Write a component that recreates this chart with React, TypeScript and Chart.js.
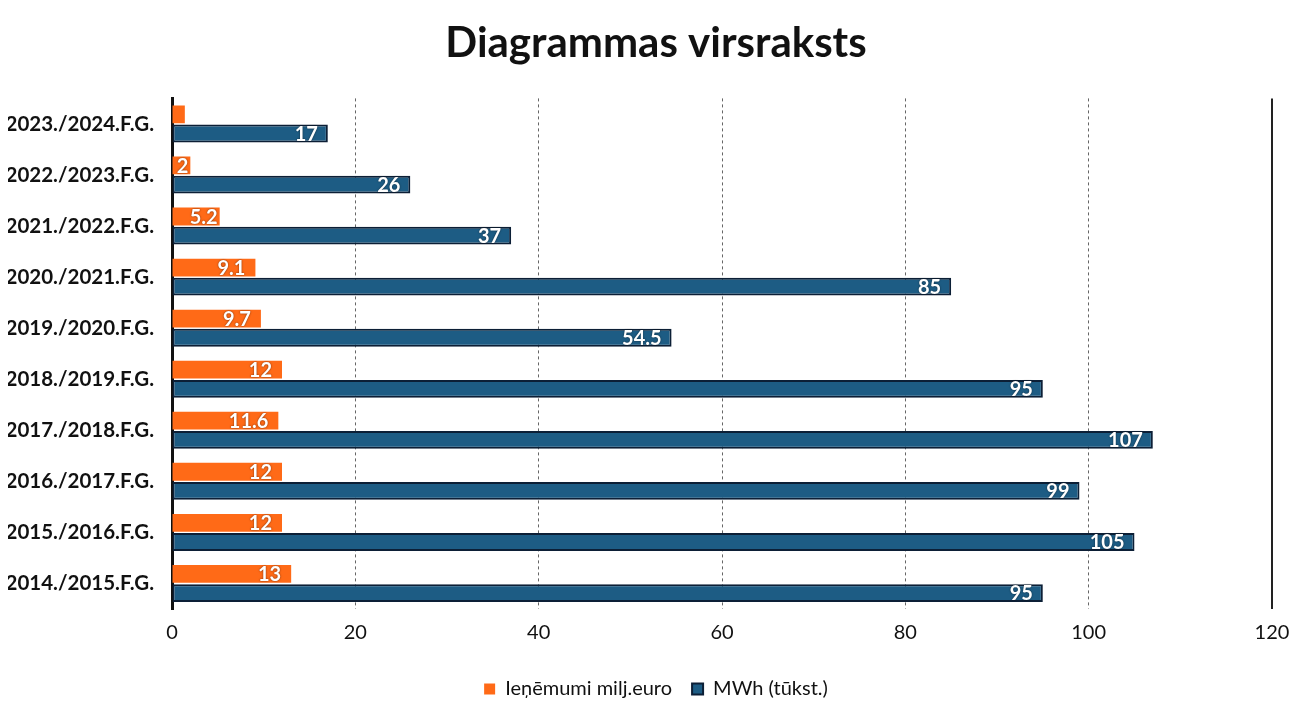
import React, { useEffect, useRef } from 'react';
import Chart from 'chart.js/auto';

const years: string[] = [
    '2023./2024.F.G.',
    '2022./2023.F.G.',
    '2021./2022.F.G.',
    '2020./2021.F.G.',
    '2019./2020.F.G.',
    '2018./2019.F.G.',
    '2017./2018.F.G.',
    '2016./2017.F.G.',
    '2015./2016.F.G.',
    '2014./2015.F.G.',
];
const revenue: number[] = [1.4, 2, 5.2, 9.1, 9.7, 12, 11.6, 12, 12, 13];
const energy: number[] = [17, 26, 37, 85, 54.5, 95, 107, 99, 105, 95];
const xTicks: number[] = [0, 20, 40, 60, 80, 100, 120];

const FONT = 'Lato, "Noto Sans", sans-serif';

// white value labels at the inner end of each bar
const barLabels = {
    id: 'barLabels',
    afterDatasetsDraw(chart: Chart) {
        const ctx = chart.ctx;
        ctx.save();
        ctx.font = `bold 20px ${FONT}`;
        ctx.fillStyle = '#ffffff';
        ctx.textAlign = 'right';
        ctx.textBaseline = 'middle';
        ctx.shadowColor = 'rgba(0,0,0,0.6)';
        ctx.shadowBlur = 2;
        chart.data.datasets.forEach((ds, i) => {
            const meta = chart.getDatasetMeta(i);
            meta.data.forEach((bar: any, j: number) => {
                const v = ds.data[j] as number;
                if (v < 1.5) return;
                const w = bar.x - bar.base;
                ctx.fillText(String(v), bar.x - (w < 60 ? 2 : 10), bar.y + 1);
            });
        });
        ctx.restore();
    },
};

const App: React.FC = () => {
    const canvasRef = useRef<HTMLCanvasElement>(null);
    const chartRef = useRef<Chart>();

    useEffect(() => {
        if (!canvasRef.current) return;
        if (chartRef.current) chartRef.current.destroy();

        chartRef.current = new Chart(canvasRef.current, {
            type: 'bar',
            data: {
                labels: years,
                datasets: [
                    {
                        label: 'Ieņēmumi milj.euro',
                        data: revenue,
                        backgroundColor: '#ff6a17',
                        borderColor: '#ff6a17',
                        borderWidth: 0,
                        barPercentage: 0.93,
                        categoryPercentage: 0.75,
                    },
                    {
                        label: 'MWh (tūkst.)',
                        data: energy,
                        backgroundColor: '#1d5c84',
                        borderColor: '#0c1f36',
                        borderWidth: 2,
                        borderSkipped: false,
                        barPercentage: 0.93,
                        categoryPercentage: 0.75,
                    },
                ],
            },
            options: {
                indexAxis: 'y',
                animation: false,
                responsive: true,
                maintainAspectRatio: false,
                layout: { padding: { left: 8, right: 0, top: 0, bottom: 5 } },
                scales: {
                    x: {
                        min: 0,
                        max: 120,
                        afterBuildTicks: (scale: any) => {
                            scale.ticks = xTicks.map((value) => ({ value }));
                        },
                        afterFit: (scale: any) => {
                            scale.height = 50;
                        },
                        grid: {
                            drawTicks: false,
                            color: (c: any) => (c.tick && c.tick.value === 120 ? '#222222' : '#666666'),
                            lineWidth: (c: any) => (c.tick && c.tick.value === 120 ? 2 : 1),
                        },
                        border: {
                            display: false,
                            dash: (c: any) => (c.tick && c.tick.value === 120 ? [] : [3, 3]),
                        },
                        ticks: {
                            padding: 12,
                            color: '#111111',
                            font: { family: FONT, size: 20 },
                        },
                    },
                    y: {
                        afterFit: (scale: any) => {
                            scale.width = 164;
                        },
                        grid: { display: false },
                        border: { display: true, color: '#111111', width: 3 },
                        ticks: {
                            padding: 10,
                            color: '#111111',
                            font: { family: FONT, size: 20.5, weight: 'bold' },
                        },
                    },
                    // empty strip on the right so the plot stops at 120
                    spacer: {
                        type: 'linear',
                        position: 'right',
                        afterFit: (scale: any) => {
                            scale.width = 32;
                        },
                        grid: { display: false },
                        border: { display: false },
                        ticks: { display: false },
                    },
                },
                plugins: {
                    title: {
                        display: true,
                        text: 'Diagrammas virsraksts',
                        color: '#111111',
                        font: { family: FONT, size: 42, weight: 'bold' },
                        padding: { top: 18, bottom: 30 },
                    },
                    legend: {
                        position: 'bottom',
                        labels: {
                            boxWidth: 11,
                            boxHeight: 11,
                            padding: 20,
                            color: '#111111',
                            font: { family: FONT, size: 20 },
                        },
                    },
                    tooltip: { enabled: false },
                },
            } as any,
            plugins: [barLabels],
        });

        return () => {
            if (chartRef.current) {
                chartRef.current.destroy();
            }
        };
    }, []);

    return (
        <div style={{ position: 'fixed', left: 0, top: 0, width: '1304px', height: '714px', background: '#ffffff' }}>
            <canvas ref={canvasRef}></canvas>
        </div>
    );
};

export default App;
